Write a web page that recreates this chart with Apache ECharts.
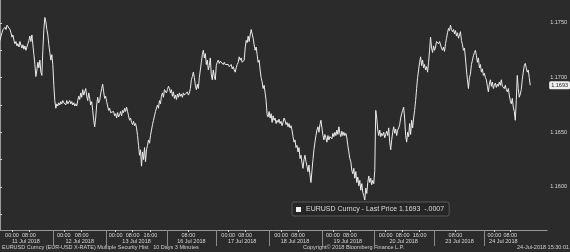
<!DOCTYPE html>
<html>
<head>
<meta charset="utf-8">
<script src="https://cdn.jsdelivr.net/npm/echarts@6/dist/echarts.min.js"></script>
<style>
html,body{margin:0;padding:0;background:#2b2b2b;}
#c{width:570px;height:252px;}
</style>
</head>
<body>
<div id="c"></div>
<script>
// EURUSD last price, 10 days, sampled evenly along the session axis
const jul11 = [1.1734,1.1738,1.1741,1.1744,1.1745,1.1746,1.1744,1.1748,1.1747,1.1749,
1.1744,1.1741,1.1737,1.1739,1.1734,1.1731,1.1733,1.1729,1.1731,1.1728,
1.1733,1.1730,1.1727,1.1730,1.1726,1.1729,1.1725,1.1728,1.1731,1.1734,
1.1738,1.1733,1.1739,1.1730,1.1721,1.1712,1.1701,1.1707,1.1714,1.1709,
1.1716,1.1705,1.1702,1.1725,1.1744,1.1755,1.1751,1.1744,1.1739,1.1730,
1.1723,1.1716,1.1721,1.1712];
const jul12 = [1.1693,1.1679,1.1672,1.1676,1.1674,1.1677,1.1675,1.1678,1.1676,1.1679,
1.1677,1.1678,1.1675,1.1679,1.1676,1.1677,1.1679,1.1676,1.1678,1.1675,
1.1677,1.1674,1.1676,1.1674,1.1679,1.1683,1.1680,1.1686,1.1682,1.1689,
1.1684,1.1687,1.1690,1.1683,1.1679,1.1686,1.1681,1.1675,1.1678,1.1670,
1.1661,1.1655,1.1663,1.1675,1.1682,1.1677,1.1679,1.1685,1.1690,1.1694,
1.1687,1.1681,1.1683,1.1678];
const jul13 = [1.1674,1.1670,1.1672,1.1668,1.1669,1.1667,1.1669,1.1665,1.1667,1.1663,
1.1668,1.1664,1.1666,1.1669,1.1665,1.1670,1.1668,1.1672,1.1669,1.1673,
1.1669,1.1665,1.1661,1.1663,1.1659,1.1657,1.1660,1.1656,1.1658,1.1654,
1.1647,1.1638,1.1629,1.1634,1.1619,1.1632,1.1625,1.1636,1.1623,1.1634,
1.1638,1.1643,1.1640,1.1647,1.1652,1.1657,1.1661,1.1665,1.1669,1.1670,
1.1675,1.1672,1.1679,1.1676,1.1683,1.1686,1.1682,1.1689,1.1690,1.1686,
1.1689];
const jul16 = [1.1692,1.1690,1.1686,1.1689,1.1683,1.1687,1.1681,1.1684,1.1680,1.1685,
1.1682,1.1686,1.1683,1.1685,1.1682,1.1686,1.1684,1.1685,1.1683,1.1687,
1.1684,1.1686,1.1690,1.1698,1.1701,1.1705,1.1700,1.1693,1.1689,1.1694,
1.1690,1.1700,1.1707,1.1714,1.1721,1.1725,1.1718,1.1722,1.1712,1.1716,
1.1707,1.1711,1.1718,1.1703,1.1698,1.1707,1.1701,1.1698,1.1711];
const jul17 = [1.1714,1.1716,1.1713,1.1715,1.1714,1.1716,1.1712,1.1714,1.1712,1.1713,
1.1711,1.1712,1.1710,1.1711,1.1712,1.1708,1.1710,1.1707,1.1705,1.1709,
1.1712,1.1714,1.1719,1.1716,1.1718,1.1714,1.1713,1.1716,1.1727,1.1734,
1.1732,1.1738,1.1733,1.1739,1.1744,1.1740,1.1736,1.1730,1.1725,1.1728,
1.1721,1.1714,1.1716,1.1707,1.1700,1.1696,1.1690,1.1693,1.1686,1.1679,
1.1666,1.1664,1.1669];
const jul18 = [1.1663,1.1667,1.1659,1.1665,1.1661,1.1663,1.1658,1.1661,1.1659,1.1662,
1.1658,1.1660,1.1656,1.1659,1.1663,1.1661,1.1657,1.1659,1.1655,1.1658,
1.1654,1.1656,1.1652,1.1646,1.1641,1.1643,1.1636,1.1638,1.1632,1.1636,
1.1626,1.1629,1.1622,1.1617,1.1625,1.1629,1.1623,1.1619,1.1614,1.1620,
1.1611,1.1604,1.1615,1.1625,1.1634,1.1641,1.1647,1.1652,1.1655,1.1650,
1.1657,1.1661,1.1654];
const jul19 = [1.1647,1.1643,1.1648,1.1645,1.1641,1.1647,1.1643,1.1646,1.1647,1.1644,
1.1649,1.1646,1.1650,1.1647,1.1652,1.1648,1.1655,1.1649,1.1646,1.1651,
1.1647,1.1650,1.1647,1.1649,1.1645,1.1638,1.1632,1.1626,1.1623,1.1615,
1.1612,1.1617,1.1608,1.1614,1.1604,1.1609,1.1601,1.1606,1.1597,1.1603,
1.1595,1.1592,1.1588,1.1599,1.1594,1.1604,1.1610,1.1604,1.1608,1.1602,
1.1606,1.1603];
const jul20 = [1.1615,1.1670,1.1663,1.1652,1.1647,1.1652,1.1646,1.1649,1.1647,1.1650,
1.1645,1.1648,1.1651,1.1647,1.1654,1.1641,1.1634,1.1643,1.1650,1.1655,
1.1649,1.1653,1.1647,1.1652,1.1654,1.1657,1.1663,1.1667,1.1670,1.1673,
1.1663,1.1647,1.1641,1.1650,1.1646,1.1658,1.1648,1.1661,1.1654,1.1663,
1.1670,1.1679,1.1690,1.1700,1.1707,1.1714,1.1719,1.1711,1.1716,1.1709,
1.1712,1.1707,1.1710,1.1705,1.1714,1.1725,1.1737,1.1727,1.1723,1.1729,
1.1725];
const jul23 = [1.1728,1.1733,1.1734,1.1731,1.1733,1.1732,1.1727,1.1725,1.1728,1.1724,
1.1731,1.1736,1.1741,1.1745,1.1743,1.1748,1.1744,1.1742,1.1744,1.1740,
1.1743,1.1738,1.1741,1.1736,1.1739,1.1742,1.1734,1.1730,1.1725,1.1727,
1.1718,1.1707,1.1698,1.1690,1.1700,1.1703,1.1712,1.1716,1.1720,1.1723,
1.1725,1.1720,1.1714,1.1718,1.1709,1.1712,1.1705,1.1708,1.1702,1.1704];
const jul24 = [1.1700,1.1698,1.1692,1.1687,1.1694,1.1698,1.1692,1.1696,1.1690,1.1693,
1.1695,1.1691,1.1694,1.1692,1.1696,1.1693,1.1698,1.1692,1.1692,1.1690,
1.1693,1.1689,1.1687,1.1690,1.1684,1.1679,1.1676,1.1681,1.1673,1.1669,
1.1661,1.1679,1.1702,1.1690,1.1682,1.1685,1.1689,1.1698,1.1705,1.1711,
1.1713,1.1709,1.1705,1.1707,1.1700,1.1693];

// Axis ticks (in sample units along the session axis)
const AXIS_MAX = 549;
const dayBounds = [53, 107, 168, 217, 270, 323, 375, 436, 486];
const dateLabelPos = [26, 80, 137, 192, 243, 296, 349, 405, 461, 505];
const dateLabels = ['11 Jul 2018','12 Jul 2018','13 Jul 2018','16 Jul 2018','17 Jul 2018',
  '18 Jul 2018','19 Jul 2018','20 Jul 2018','23 Jul 2018','24 Jul 2018'];
const timeTickPos = [12, 29, 64, 82, 116, 133, 151, 189, 229, 246, 282, 299, 334, 351, 387, 404, 421, 457, 496, 512];
const timeTickText = ['00:00','08:00','00:00','08:00','00:00','08:00','16:00','08:00','00:00','08:00',
  '00:00','08:00','00:00','08:00','00:00','08:00','16:00','08:00','00:00','08:00'];
const yLabelVals = [1.16, 1.165, 1.17, 1.175];
const yTickVals = [1.1575, 1.16, 1.1625, 1.165, 1.1675, 1.17, 1.1725, 1.175];
const Y_MIN = 1.15606, Y_MAX = 1.1771;
const LAST_PRICE = 1.1693, CHANGE = '-.0007';

const prices = [].concat(jul11, jul12, jul13, jul16, jul17, jul18, jul19, jul20, jul23, jul24);
const seriesData = prices.map((p, i) => [i, p]);

const FONT = '"Liberation Sans", Arial, sans-serif';
const chart = echarts.init(document.getElementById('c'), null, {renderer: 'canvas'});
chart.setOption({
  backgroundColor: '#2b2b2b',
  animation: false,
  grid: {left: 0, right: 21, top: 0, bottom: 22, containLabel: false},
  legend: {
    left: 292, top: 202,
    padding: [4, 5, 3, 4],
    backgroundColor: '#262626',
    borderColor: '#595959', borderWidth: 1, borderRadius: 2,
    icon: 'rect', itemWidth: 5, itemHeight: 5,
    textStyle: {color: '#dcdcdc', fontSize: 7, fontFamily: FONT},
    formatter: (n) => n + ' - Last Price ' + LAST_PRICE.toFixed(4) + '  ' + CHANGE,
    data: ['EURUSD Curncy']
  },
  xAxis: [{
    type: 'value', min: 0, max: AXIS_MAX, position: 'bottom',
    axisLine: {show: true, lineStyle: {color: '#9a9a9a', width: 1}},
    axisTick: {show: true, customValues: timeTickPos, length: 2, lineStyle: {color: '#cfcfcf'}},
    axisLabel: {show: true, customValues: timeTickPos, margin: 2, fontSize: 5.5, color: '#d8d8d8', fontFamily: FONT,
      formatter: (v) => { const k = timeTickPos.indexOf(v); return k >= 0 ? timeTickText[k] : ''; }},
    splitLine: {show: false}
  }, {
    type: 'value', min: 0, max: AXIS_MAX, position: 'bottom',
    axisLine: {show: false},
    axisTick: {show: true, customValues: dayBounds, length: 16, lineStyle: {color: '#8a8a8a'}},
    axisLabel: {show: true, customValues: dateLabelPos, margin: 8, fontSize: 5.5, color: '#d8d8d8', fontFamily: FONT,
      formatter: (v) => { const k = dateLabelPos.indexOf(v); return k >= 0 ? dateLabels[k] : ''; }},
    splitLine: {show: false}
  }],
  yAxis: {
    type: 'value', position: 'right', min: Y_MIN, max: Y_MAX, scale: true,
    axisLine: {show: true, lineStyle: {color: '#9a9a9a', width: 1}},
    axisTick: {show: true, customValues: yTickVals, length: 2, lineStyle: {color: '#cfcfcf'}},
    axisLabel: {show: true, customValues: yLabelVals, margin: 3, fontSize: 5.5, color: '#d8d8d8', fontFamily: FONT,
      formatter: (v) => v.toFixed(4)},
    splitLine: {show: false}
  },
  series: [{
    name: 'EURUSD Curncy', type: 'line', xAxisIndex: 0,
    data: seriesData, showSymbol: false, symbol: 'none',
    lineStyle: {color: '#ececec', width: 1},
    itemStyle: {color: '#f2f2f2'},
    markPoint: {
      silent: true, animation: false,
      symbol: 'rect', symbolSize: 0,
      label: {show: true, position: 'right', distance: 2, formatter: LAST_PRICE.toFixed(4),
        backgroundColor: '#f0f0f0', color: '#222', fontSize: 5.5, fontFamily: FONT,
        padding: [1, 2, 1, 2], borderRadius: 1.5},
      data: [{coord: [AXIS_MAX, LAST_PRICE]}]
    }
  }],
  graphic: [
    {type: 'text', left: 2, top: 244, style: {text: 'EURUSD Curncy (EUR-USD X-RATE) Multiple Security Hist   10 Days 3 Minutes', fill: '#cfcfcf', fontSize: 5.5, fontFamily: FONT}},
    {type: 'text', left: 303, top: 244, style: {text: 'Copyright\u00a9 2018 Bloomberg Finance L.P.', fill: '#cfcfcf', fontSize: 5.5, fontFamily: FONT}},
    {type: 'text', right: 1, top: 244, style: {text: '24-Jul-2018 15:30:01', fill: '#cfcfcf', fontSize: 5.5, fontFamily: FONT}}
  ]
});
</script>
</body>
</html>
